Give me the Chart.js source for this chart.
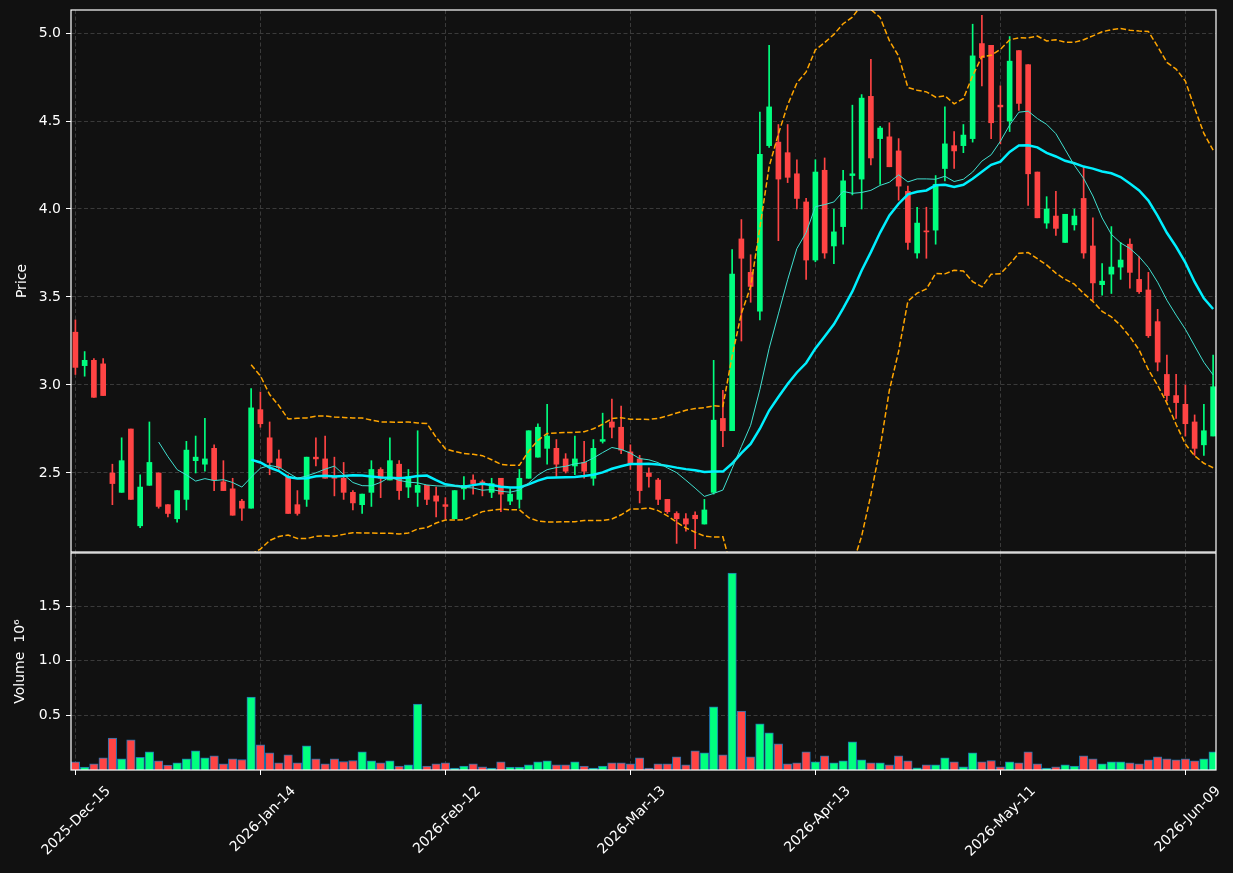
<!DOCTYPE html>
<html>
<head>
<meta charset="utf-8">
<script src="https://cdn.jsdelivr.net/npm/chart.js@4.4.1/dist/chart.umd.min.js"></script>
<style>
  html, body { margin: 0; padding: 0; background: #111111; }
  #wrap { position: relative; width: 1233px; height: 873px; overflow: hidden; }
  #priceChart { position: absolute; left: 0; top: 0; }
  #volumeChart { position: absolute; left: 0; top: 552px; }
</style>
</head>
<body>
<div id="wrap">
  <canvas id="priceChart" width="1233" height="553"></canvas>
  <canvas id="volumeChart" width="1233" height="321"></canvas>
</div>
<script>
// trading days (one per candle)
const dates = [
  "2025-Dec-15","2025-Dec-16","2025-Dec-17","2025-Dec-18","2025-Dec-19","2025-Dec-22","2025-Dec-23","2025-Dec-24","2025-Dec-26","2025-Dec-29","2025-Dec-30","2025-Dec-31",
  "2026-Jan-02","2026-Jan-05","2026-Jan-06","2026-Jan-07","2026-Jan-08","2026-Jan-09","2026-Jan-12","2026-Jan-13","2026-Jan-14","2026-Jan-15","2026-Jan-16","2026-Jan-20","2026-Jan-21","2026-Jan-22","2026-Jan-23","2026-Jan-26","2026-Jan-27","2026-Jan-28","2026-Jan-29","2026-Jan-30",
  "2026-Feb-02","2026-Feb-03","2026-Feb-04","2026-Feb-05","2026-Feb-06","2026-Feb-09","2026-Feb-10","2026-Feb-11","2026-Feb-12","2026-Feb-13","2026-Feb-17","2026-Feb-18","2026-Feb-19","2026-Feb-20","2026-Feb-23","2026-Feb-24","2026-Feb-25","2026-Feb-26","2026-Feb-27",
  "2026-Mar-02","2026-Mar-03","2026-Mar-04","2026-Mar-05","2026-Mar-06","2026-Mar-09","2026-Mar-10","2026-Mar-11","2026-Mar-12","2026-Mar-13","2026-Mar-16","2026-Mar-17","2026-Mar-18","2026-Mar-19","2026-Mar-20","2026-Mar-23","2026-Mar-24","2026-Mar-25","2026-Mar-26","2026-Mar-27","2026-Mar-30","2026-Mar-31",
  "2026-Apr-01","2026-Apr-02","2026-Apr-06","2026-Apr-07","2026-Apr-08","2026-Apr-09","2026-Apr-10","2026-Apr-13","2026-Apr-14","2026-Apr-15","2026-Apr-16","2026-Apr-17","2026-Apr-20","2026-Apr-21","2026-Apr-22","2026-Apr-23","2026-Apr-24","2026-Apr-27","2026-Apr-28","2026-Apr-29","2026-Apr-30",
  "2026-May-01","2026-May-04","2026-May-05","2026-May-06","2026-May-07","2026-May-08","2026-May-11","2026-May-12","2026-May-13","2026-May-14","2026-May-15","2026-May-18","2026-May-19","2026-May-20","2026-May-21","2026-May-22","2026-May-26","2026-May-27","2026-May-28","2026-May-29",
  "2026-Jun-01","2026-Jun-02","2026-Jun-03","2026-Jun-04","2026-Jun-05","2026-Jun-08","2026-Jun-09","2026-Jun-10","2026-Jun-11","2026-Jun-12"
];

const tickLabels = ["2025-Dec-15", "2026-Jan-14", "2026-Feb-12", "2026-Mar-13", "2026-Apr-13", "2026-May-11", "2026-Jun-09"];
const priceTicks = [2.5, 3.0, 3.5, 4.0, 4.5, 5.0];
const volumeTicks = [500000, 1000000, 1500000];

const opens = [
  3.30, 3.11, 3.14, 3.12, 2.50, 2.39, 2.75, 2.20, 2.43, 2.50, 2.32, 2.24, 2.35, 2.57, 2.55, 2.64, 2.45, 2.41, 2.34, 2.30,
  2.86, 2.70, 2.58, 2.48, 2.32, 2.35, 2.59, 2.58, 2.48, 2.47, 2.39, 2.32, 2.39, 2.52, 2.46, 2.55, 2.42, 2.39, 2.43, 2.37,
  2.32, 2.24, 2.41, 2.46, 2.45, 2.39, 2.47, 2.34, 2.35, 2.47, 2.59, 2.64, 2.64, 2.58, 2.54, 2.56, 2.47, 2.68, 2.79, 2.76,
  2.62, 2.58, 2.50, 2.46, 2.35, 2.27, 2.24, 2.26, 2.21, 2.39, 2.81, 2.74, 3.83, 3.64, 3.42, 4.36, 4.38, 4.32, 4.20, 4.04,
  3.71, 4.22, 3.79, 3.90, 4.19, 4.17, 4.64, 4.40, 4.41, 4.33, 4.10, 3.75, 3.875, 3.88, 4.23, 4.36, 4.36, 4.40, 4.94, 4.93,
  4.59, 4.50, 4.90, 4.82, 4.21, 3.92, 3.96, 3.81, 3.91, 4.06, 3.79, 3.57, 3.63, 3.67, 3.80, 3.60, 3.54, 3.36, 3.06, 2.94,
  2.89, 2.79, 2.66, 2.71
];
const highs = [
  3.37, 3.19, 3.15, 3.15, 2.55, 2.70, 2.75, 2.49, 2.79, 2.50, 2.32, 2.40, 2.68, 2.71, 2.81, 2.66, 2.57, 2.47, 2.35, 2.98,
  2.96, 2.79, 2.63, 2.49, 2.40, 2.59, 2.70, 2.71, 2.59, 2.56, 2.40, 2.38, 2.57, 2.53, 2.70, 2.57, 2.52, 2.74, 2.43, 2.42,
  2.36, 2.40, 2.48, 2.49, 2.46, 2.47, 2.47, 2.41, 2.52, 2.74, 2.78, 2.89, 2.69, 2.61, 2.71, 2.68, 2.69, 2.84, 2.92, 2.88,
  2.66, 2.60, 2.53, 2.47, 2.35, 2.28, 2.27, 2.28, 2.35, 3.14, 2.97, 3.77, 3.94, 3.74, 4.55, 4.93, 4.48, 4.48, 4.28, 4.06,
  4.28, 4.29, 4.00, 4.22, 4.59, 4.65, 4.85, 4.47, 4.49, 4.40, 4.13, 4.01, 4.01, 4.19, 4.58, 4.44, 4.48, 5.05, 5.10, 4.93,
  4.70, 4.98, 4.90, 4.82, 4.21, 4.07, 4.10, 3.97, 4.00, 4.24, 3.95, 3.69, 3.90, 3.81, 3.83, 3.73, 3.64, 3.43, 3.17, 3.06,
  3.00, 2.83, 2.89, 3.17
];
const lows = [
  3.06, 3.05, 2.93, 2.94, 2.32, 2.39, 2.35, 2.19, 2.43, 2.30, 2.25, 2.22, 2.29, 2.50, 2.51, 2.40, 2.40, 2.26, 2.23, 2.30,
  2.76, 2.49, 2.52, 2.27, 2.26, 2.31, 2.54, 2.47, 2.37, 2.35, 2.29, 2.27, 2.31, 2.36, 2.46, 2.35, 2.36, 2.31, 2.32, 2.25,
  2.24, 2.24, 2.35, 2.38, 2.37, 2.36, 2.28, 2.32, 2.30, 2.47, 2.59, 2.55, 2.48, 2.50, 2.49, 2.47, 2.43, 2.67, 2.70, 2.61,
  2.52, 2.33, 2.42, 2.32, 2.27, 2.10, 2.17, 2.07, 2.21, 2.38, 2.65, 2.74, 3.25, 3.47, 3.37, 4.35, 3.82, 4.15, 4.00, 3.60,
  3.70, 3.72, 3.69, 3.80, 4.08, 4.00, 4.25, 4.14, 4.24, 4.05, 3.77, 3.72, 3.72, 3.80, 4.16, 4.23, 4.32, 4.38, 4.70, 4.40,
  4.37, 4.44, 4.56, 4.02, 3.95, 3.89, 3.85, 3.81, 3.88, 3.72, 3.48, 3.51, 3.52, 3.60, 3.55, 3.52, 3.27, 3.08, 2.91, 2.81,
  2.71, 2.60, 2.60, 2.71
];
const closes = [
  3.10, 3.14, 2.93, 2.94, 2.44, 2.57, 2.35, 2.42, 2.56, 2.31, 2.27, 2.40, 2.63, 2.59, 2.58, 2.46, 2.40, 2.26, 2.30, 2.87,
  2.78, 2.56, 2.53, 2.27, 2.27, 2.59, 2.58, 2.47, 2.47, 2.39, 2.33, 2.38, 2.52, 2.47, 2.57, 2.40, 2.48, 2.43, 2.35, 2.34,
  2.31, 2.40, 2.43, 2.44, 2.44, 2.44, 2.38, 2.38, 2.47, 2.74, 2.76, 2.71, 2.55, 2.51, 2.58, 2.51, 2.64, 2.69, 2.76, 2.63,
  2.55, 2.40, 2.48, 2.35, 2.28, 2.24, 2.21, 2.24, 2.29, 2.80, 2.74, 3.63, 3.72, 3.56, 4.31, 4.58, 4.17, 4.18, 4.06, 3.71,
  4.21, 3.75, 3.87, 4.16, 4.20, 4.63, 4.29, 4.46, 4.24, 4.13, 3.81, 3.92, 3.87, 4.14, 4.37, 4.33, 4.42, 4.87, 4.86, 4.49,
  4.58, 4.84, 4.60, 4.20, 3.95, 4.00, 3.89, 3.97, 3.96, 3.75, 3.58, 3.59, 3.67, 3.71, 3.64, 3.53, 3.28, 3.13, 2.94, 2.90,
  2.78, 2.64, 2.74, 2.99
];
const volumes = [
  75000, 26000, 56000, 111000, 291000, 102000, 275000, 117000, 166000, 84000, 44000, 65000, 102000, 175000, 111000, 129000, 56000, 102000, 96000, 668000,
  230000, 157000, 65000, 139000, 65000, 221000, 102000, 56000, 102000, 78000, 87000, 166000, 84000, 65000, 84000, 35000, 47000, 604000, 35000, 56000,
  65000, 17000, 35000, 56000, 29000, 17000, 75000, 26000, 26000, 47000, 75000, 84000, 47000, 47000, 75000, 35000, 17000, 35000, 65000, 65000,
  56000, 111000, 17000, 56000, 56000, 120000, 47000, 175000, 157000, 577000, 139000, 1801000, 540000, 120000, 422000, 339000, 239000, 56000, 65000, 166000,
  75000, 129000, 65000, 84000, 257000, 93000, 65000, 65000, 47000, 129000, 84000, 20000, 47000, 47000, 111000, 75000, 29000, 157000, 75000, 87000,
  29000, 75000, 65000, 166000, 56000, 17000, 29000, 47000, 35000, 129000, 102000, 56000, 75000, 75000, 65000, 56000, 93000, 120000, 102000, 93000,
  102000, 84000, 102000, 166000
];

// indicators, computed from the closes like the source chart
function rollingMean(values, n) {
  return values.map((v, i) => {
    if (i < n - 1) return null;
    let s = 0;
    for (let k = i - n + 1; k <= i; k++) s += values[k];
    return s / n;
  });
}
function rollingStd(values, n) {
  const mean = rollingMean(values, n);
  return values.map((v, i) => {
    if (mean[i] === null) return null;
    let s = 0;
    for (let k = i - n + 1; k <= i; k++) s += (values[k] - mean[i]) ** 2;
    return Math.sqrt(s / n);
  });
}
const ma10 = rollingMean(closes, 10);
const ma20 = rollingMean(closes, 20);
const sd20 = rollingStd(closes, 20);
const bbUpper = ma20.map((m, i) => (m === null ? null : m + 2 * sd20[i]));
const bbLower = ma20.map((m, i) => (m === null ? null : m - 2 * sd20[i]));

const upColor = "#00ff7f";
const downColor = "#ff4444";
const gridColor = "#3a3a3a";
const candleColors = closes.map((c, i) => (c >= opens[i] ? upColor : downColor));
const tickIndex = tickLabels.map((l) => dates.indexOf(l));

Chart.defaults.font.family = "'DejaVu Sans', sans-serif";
Chart.defaults.font.size = 14;
Chart.defaults.color = "#ffffff";

const xRange = { min: -0.475, max: 123.31 };

// no label padding: keep the plot box where it is in the source
function noPadding(s) {
  s.paddingTop = 0;
  s.paddingBottom = 0;
  s.paddingLeft = 0;
  s.paddingRight = 0;
}

const framePlugin = {
  id: "frame",
  afterDraw(chart) {
    const { ctx, chartArea } = chart;
    ctx.save();
    ctx.strokeStyle = "#ffffff";
    ctx.lineWidth = 1.2;
    ctx.strokeRect(chartArea.left, chartArea.top, chartArea.right - chartArea.left, chartArea.bottom - chartArea.top);
    ctx.restore();
  },
};

function axisTitle(text, x) {
  return {
    id: "axisTitle",
    afterDraw(chart) {
      const { ctx, chartArea } = chart;
      ctx.save();
      ctx.translate(x, (chartArea.top + chartArea.bottom) / 2);
      ctx.rotate(-Math.PI / 2);
      ctx.fillStyle = "#ffffff";
      ctx.font = "14px 'DejaVu Sans'";
      ctx.textAlign = "center";
      ctx.textBaseline = "middle";
      ctx.fillText(text, 0, 0);
      ctx.restore();
    },
  };
}

function lineSet(data, color, width, dash) {
  return {
    type: "line",
    data: data.map((v, i) => ({ x: i, y: v })),
    borderColor: color,
    borderWidth: width,
    borderDash: dash || [],
    pointRadius: 0,
    fill: false,
    tension: 0,
    order: 0,
  };
}

function initPriceChart() {
  const ctx = document.getElementById("priceChart").getContext("2d");
  return new Chart(ctx, {
    type: "bar",
    data: {
      datasets: [
        lineSet(ma10, "#40e0d0", 1),
        lineSet(ma20, "#00f0ff", 2.5),
        lineSet(bbUpper, "#ffa500", 1.5, [5.5, 2.5]),
        lineSet(bbLower, "#ffa500", 1.5, [5.5, 2.5]),
        {
          label: "body",
          data: dates.map((d, i) => ({ x: i, y: [opens[i], closes[i]] })),
          backgroundColor: candleColors,
          barThickness: 5,
          minBarLength: 1,
          grouped: false,
          order: 1,
        },
        {
          label: "wick",
          data: dates.map((d, i) => ({ x: i, y: [lows[i], highs[i]] })),
          backgroundColor: candleColors,
          barThickness: 1,
          grouped: false,
          order: 2,
        },
      ],
    },
    options: {
      responsive: false,
      animation: false,
      layout: { padding: { top: 10, right: 17, bottom: 1, left: 0 } },
      plugins: { legend: { display: false }, tooltip: { enabled: false } },
      scales: {
        x: {
          type: "linear",
          min: xRange.min,
          max: xRange.max,
          offset: false,
          afterBuildTicks: (s) => { s.ticks = tickIndex.map((v) => ({ value: v })); },
          afterFit: (s) => { s.height = 0; noPadding(s); },
          grid: { color: gridColor, drawTicks: false, offset: false },
          border: { display: false, dash: [4, 2.5] },
          ticks: { display: false },
        },
        y: {
          min: 2.0511,
          max: 5.1307,
          afterBuildTicks: (s) => { s.ticks = priceTicks.map((v) => ({ value: v })); },
          afterFit: (s) => { s.width = 71; noPadding(s); },
          grid: { color: gridColor, tickColor: "#ffffff", tickLength: 5, tickBorderDash: [] },
          border: { display: false, dash: [4, 2.5] },
          ticks: { color: "#ffffff", padding: 5, callback: (v) => Number(v).toFixed(1) },
        },
      },
    },
    plugins: [framePlugin, axisTitle("Price", 22)],
  });
}

function initVolumeChart() {
  const ctx = document.getElementById("volumeChart").getContext("2d");
  return new Chart(ctx, {
    type: "bar",
    data: {
      datasets: [
        {
          label: "Volume",
          data: volumes.map((v, i) => ({ x: i, y: v })),
          backgroundColor: candleColors,
          borderColor: "#1f77b4",
          borderWidth: 1,
          barThickness: 8.5,
          grouped: false,
        },
      ],
    },
    options: {
      responsive: false,
      animation: false,
      layout: { padding: { top: 1, right: 17, bottom: 0, left: 0 } },
      plugins: { legend: { display: false }, tooltip: { enabled: false } },
      scales: {
        x: {
          type: "linear",
          min: xRange.min,
          max: xRange.max,
          offset: false,
          afterBuildTicks: (s) => { s.ticks = tickIndex.map((v) => ({ value: v })); },
          afterFit: (s) => { s.height = 103; noPadding(s); },
          grid: { color: gridColor, tickColor: "#ffffff", tickLength: 5, tickBorderDash: [], offset: false },
          border: { display: false, dash: [4, 2.5] },
          ticks: {
            color: "#ffffff",
            autoSkip: false,
            maxRotation: 45,
            minRotation: 45,
            padding: 8,
            labelOffset: 33,
            callback: (v) => dates[v],
          },
        },
        y: {
          min: 0,
          max: 1985000,
          afterBuildTicks: (s) => { s.ticks = volumeTicks.map((v) => ({ value: v })); },
          afterFit: (s) => { s.width = 71; noPadding(s); },
          grid: { color: gridColor, tickColor: "#ffffff", tickLength: 5, tickBorderDash: [] },
          border: { display: false, dash: [4, 2.5] },
          ticks: { color: "#ffffff", padding: 5, callback: (v) => (v / 1e6).toFixed(1) },
        },
      },
    },
    plugins: [framePlugin, axisTitle("Volume  10\u2076", 20)],
  });
}

window.onload = () => {
  initPriceChart();
  initVolumeChart();
};
</script>
</body>
</html>
